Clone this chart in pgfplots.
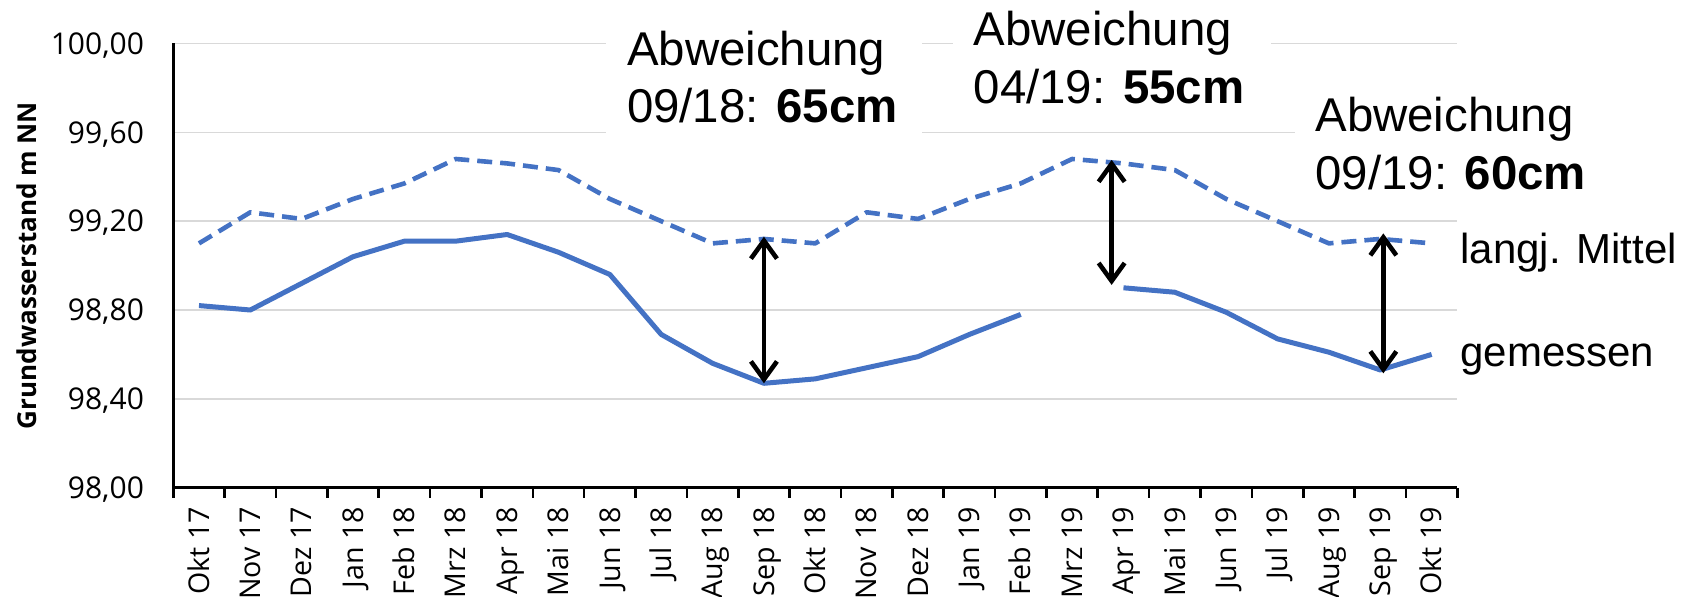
\documentclass[border=0pt]{standalone}
\usepackage{fontspec}
\setmainfont{Open Sans}
\newfontfamily\arialf{Liberation Sans}
\usepackage{pgfplots}
\pgfplotsset{compat=1.18}
\usetikzlibrary{arrows.meta}
\definecolor{lineblue}{HTML}{4472C4}
\definecolor{gridgray}{HTML}{D9D9D9}

\pgfplotstableread{
x y
0 99.10
1 99.24
2 99.21
3 99.30
4 99.37
5 99.48
6 99.46
7 99.43
8 99.30
9 99.20
10 99.10
11 99.12
12 99.10
13 99.24
14 99.21
15 99.30
16 99.37
17 99.48
18 99.46
19 99.43
20 99.30
21 99.20
22 99.10
23 99.12
24 99.10
}\mittel

\pgfplotstableread{
x y
0 98.82
1 98.80
2 98.92
3 99.04
4 99.11
5 99.11
6 99.14
7 99.06
8 98.96
9 98.69
10 98.56
11 98.47
12 98.49
13 98.54
14 98.59
15 98.69
16 98.78
17 nan
18 98.90
19 98.88
20 98.79
21 98.67
22 98.61
23 98.53
24 98.60
}\gemessen

\begin{document}
\begin{tikzpicture}
\path[use as bounding box] (-86.65pt,-54.65pt) rectangle (756.35pt,243.85pt);
\begin{axis}[
  at={(0pt,0pt)}, anchor=south west,
  scale only axis, width=642pt, height=222.1pt,
  xmin=-0.5, xmax=24.5, ymin=98, ymax=100,
  clip=false,
  axis x line=bottom, axis y line=left,
  axis line style={-, black, line width=1.3pt},
  xtick={0,...,24},
  xticklabels={Okt 17,Nov 17,Dez 17,Jan 18,Feb 18,Mrz 18,Apr 18,Mai 18,Jun 18,Jul 18,Aug 18,Sep 18,Okt 18,Nov 18,Dez 18,Jan 19,Feb 19,Mrz 19,Apr 19,Mai 19,Jun 19,Jul 19,Aug 19,Sep 19,Okt 19},
  minor xtick={-0.5,0.5,...,24.5},
  ytick={98,98.4,98.8,99.2,99.6,100},
  major tick length=0pt, minor tick length=5pt,
  tick align=outside,
  tick style={black, line width=1.3pt},
  ymajorgrids=true,
  grid style={gridgray, line width=0.75pt},
  xticklabel style={rotate=90, anchor=east, inner sep=0pt, font=\fontsize{14.3}{14.3}\selectfont, text height=10.2pt, text depth=0pt},
  xticklabel shift=9.5pt,
  yticklabel style={anchor=east, inner sep=0pt, font=\fontsize{15}{15}\selectfont, text height=10.7pt, text depth=0pt},
  yticklabel shift=14.5pt,
  /pgf/number format/assume math mode=true,
  yticklabel={\pgfmathprintnumber[fixed, fixed zerofill, precision=2, use comma, 1000 sep={}]{\tick}},
  ylabel={Grundwasserstand m NN},
  every axis y label/.style={at={(axis description cs:-0.1145,0.5)}, rotate=90, anchor=center, font=\bfseries\fontsize{13}{13}\selectfont},
]
\addplot[lineblue, line width=2.3pt, dash pattern=on 7.5pt off 4pt, line join=round] table[x=x,y=y] {\mittel};
\addplot[lineblue, line width=2.5pt, line join=round, unbounded coords=jump] table[x=x,y=y] {\gemessen};

\draw[black, line width=2.3pt, {Straight Barb[length=9pt,width=13pt]}-{Straight Barb[length=9pt,width=13pt]}] (axis cs:11,99.13) -- (axis cs:11,98.47);
\draw[black, line width=2.3pt, {Straight Barb[length=9pt,width=13pt]}-{Straight Barb[length=9pt,width=13pt]}] (axis cs:17.77,99.476) -- (axis cs:17.77,98.913);
\draw[black, line width=2.3pt, {Straight Barb[length=9pt,width=13pt]}-{Straight Barb[length=9pt,width=13pt]}] (axis cs:23.06,99.145) -- (axis cs:23.06,98.515);

\fill[white] (axis cs:7.927,100.106) rectangle (axis cs:14.072,99.566);
\fill[white] (axis cs:14.687,100.196) rectangle (axis cs:20.873,99.665);
\fill[white] (axis cs:21.34,99.782) rectangle (axis cs:27.28,99.259);

\node[anchor=base west, inner sep=0pt, font=\arialf\fontsize{23.7}{28}\selectfont] at (axis cs:8.328,99.903) {Abweichung};
\node[anchor=base west, inner sep=0pt, font=\arialf\fontsize{23.7}{28}\selectfont] at (axis cs:8.328,99.645) {09/18: \textbf{65cm}};
\node[anchor=base west, inner sep=0pt, font=\arialf\fontsize{23.7}{28}\selectfont] at (axis cs:15.077,99.993) {Abweichung};
\node[anchor=base west, inner sep=0pt, font=\arialf\fontsize{23.7}{28}\selectfont] at (axis cs:15.077,99.731) {04/19: \textbf{55cm}};
\node[anchor=base west, inner sep=0pt, font=\arialf\fontsize{23.7}{28}\selectfont] at (axis cs:21.73,99.603) {Abweichung};
\node[anchor=base west, inner sep=0pt, font=\arialf\fontsize{23.7}{28}\selectfont] at (axis cs:21.73,99.343) {09/19: \textbf{60cm}};

\node[anchor=base west, inner sep=0pt, font=\arialf\fontsize{21}{25}\selectfont] at (axis cs:24.553,99.010) {langj. Mittel};
\node[anchor=base west, inner sep=0pt, font=\arialf\fontsize{21}{25}\selectfont] at (axis cs:24.553,98.545) {gemessen};
\end{axis}
\end{tikzpicture}
\end{document}
